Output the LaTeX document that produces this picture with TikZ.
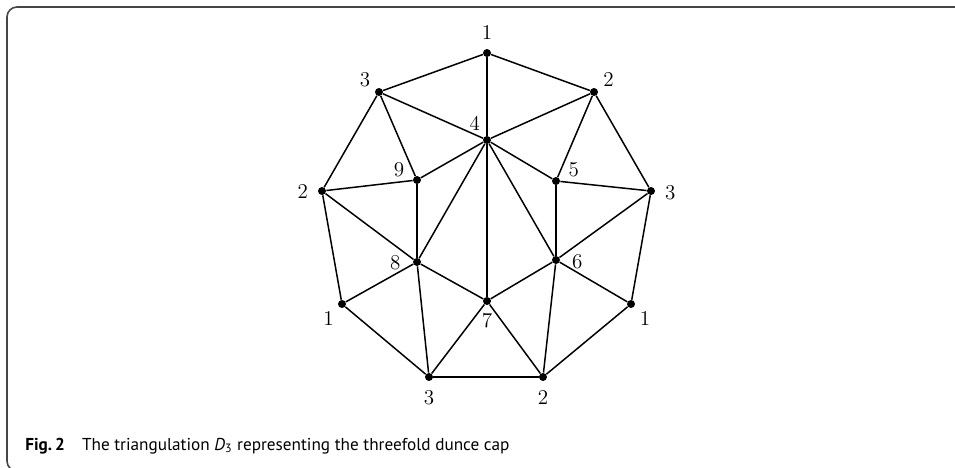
\documentclass[tikz,border=0pt]{standalone}
\usepackage{fontspec}
\setsansfont{PT Sans}
\usetikzlibrary{positioning}

\definecolor{framegray}{RGB}{70,70,70}

\tikzset{
  vertex/.style={circle, fill=black, inner sep=0pt, minimum size=0.16cm},
  lbl/.style={font=\fontsize{13}{15}\selectfont, inner sep=1pt, anchor=center},
  edge/.style={line width=0.85pt},
  every label/.style={lbl}
}

\begin{document}
\begin{tikzpicture}[x=0.02cm, y=-0.02cm]
  \useasboundingbox (0,0) rectangle (955,467);
  % frame round the figure
  \draw[framegray, line width=0.9pt, rounded corners=0.2cm] (7,7) rectangle (1000,471);

  % outer boundary
  \node[vertex, label={[lbl, label distance=0.32cm]90:$1$}]  (a1) at (487,53) {};
  \node[vertex, label={[lbl, label distance=0.30cm]41:$2$}]  (a2) at (594,92) {};
  \node[vertex, label={[lbl, label distance=0.30cm]356:$3$}] (a3) at (651,191) {};
  \node[vertex, label={[lbl, label distance=0.32cm]314:$1$}] (b1) at (631,304) {};
  \node[vertex, label={[lbl, label distance=0.33cm]270:$2$}] (b2) at (543,377) {};
  \node[vertex, label={[lbl, label distance=0.33cm]270:$3$}] (b3) at (429,377) {};
  \node[vertex, label={[lbl, label distance=0.31cm]227:$1$}] (c1) at (342,304) {};
  \node[vertex, label={[lbl, label distance=0.30cm]183:$2$}] (c2) at (322,191) {};
  \node[vertex, label={[lbl, label distance=0.29cm]138:$3$}] (c3) at (379,92) {};

  % inner vertices
  \node[vertex, label={[lbl, label distance=0.32cm]127:$4$}] (v4) at (487,140) {};
  \node[vertex, label={[lbl, label distance=0.33cm]32:$5$}]  (v5) at (556,181) {};
  \node[vertex, label={[lbl, label distance=0.34cm]356:$6$}] (v6) at (556,260) {};
  \node[vertex, label={[lbl, label distance=0.31cm]270:$7$}] (v7) at (487,301) {};
  \node[vertex, label={[lbl, label distance=0.35cm]183:$8$}] (v8) at (417,262) {};
  \node[vertex, label={[lbl, label distance=0.33cm]149:$9$}] (v9) at (417,180) {};

  % edges
  \foreach \u/\v in {a1/a2, a2/a3, a3/b1, b1/b2, b2/b3, b3/c1, c1/c2, c2/c3, c3/a1,
                     a1/v4, c3/v4, a2/v4, c3/v9, a2/v5, v9/v4, v5/v4,
                     c2/v9, a3/v5, v9/v8, v5/v6, v4/v8, v4/v7, v4/v6,
                     c2/v8, a3/v6, v8/c1, v6/b1, v8/v7, v6/v7,
                     v8/b3, v6/b2, v7/b3, v7/b2}
    \draw[edge] (\u) -- (\v);

  % caption
  \node[anchor=base west, inner sep=0pt, font=\sffamily\fontsize{9.8}{12}\selectfont] (caption) at (25,450)
    {\textbf{Fig.\,2}\hspace{1em}The triangulation \textit{D}\textsubscript{3} representing the threefold dunce cap};
\end{tikzpicture}
\end{document}
